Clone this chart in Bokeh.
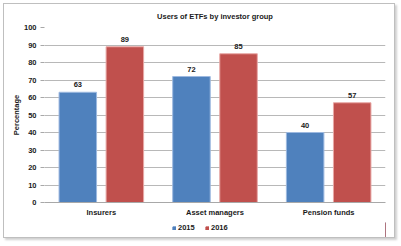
from bokeh.plotting import figure
from bokeh.layouts import column
from bokeh.models import FactorRange, ColumnDataSource, Legend, LegendItem, Range1d, FixedTicker, LabelSet
from bokeh.core.properties import value
from bokeh.transform import dodge
from bokeh.embed import file_html
from bokeh.resources import INLINE

categories = ["Insurers", "Asset managers", "Pension funds"]
years = ["2015", "2016"]
values_2015 = [63, 72, 40]
values_2016 = [89, 85, 57]
y_ticks = [0, 10, 20, 30, 40, 50, 60, 70, 80, 90, 100]

FONT = "Liberation Sans"
FS = "7.5px"
TXT = "#1A1A1A"
BLUE = "#4F81BD"
RED = "#C0504D"

src = ColumnDataSource(dict(cat=categories, v15=values_2015, v16=values_2016,
                            t15=[str(v) for v in values_2015], t16=[str(v) for v in values_2016]))

p = figure(width=390, height=218, x_range=FactorRange(*categories, range_padding=0),
           y_range=Range1d(0, 100), output_backend="svg", toolbar_location=None,
           min_border_left=40, min_border_right=9, min_border_top=23, min_border_bottom=20)
p.outline_line_color = None
p.background_fill_color = "white"

r15 = p.vbar(x=dodge("cat", -0.207, range=p.x_range), top="v15", width=0.33, source=src,
             fill_color=BLUE, line_color="#9DB9E0", line_width=1)
r16 = p.vbar(x=dodge("cat", 0.207, range=p.x_range), top="v16", width=0.33, source=src,
             fill_color=RED, line_color="#E8A8A6", line_width=1)

for col, off in (("t15", -0.207), ("t16", 0.207)):
    p.add_layout(LabelSet(x=dodge("cat", off, range=p.x_range), y=col.replace("t", "v"), text=col,
                          source=src, y_offset=5, text_align="center", text_font=value(FONT),
                          text_font_style="bold", text_font_size=value(FS), text_color=TXT))

p.yaxis.ticker = FixedTicker(ticks=y_ticks)
p.yaxis.axis_line_color = None
p.yaxis.major_tick_line_color = "#A8A8A8"
p.yaxis.major_tick_out = 4
p.yaxis.major_tick_in = 0
p.yaxis.minor_tick_line_color = None
p.yaxis.major_label_text_font = FONT
p.yaxis.major_label_text_font_style = "bold"
p.yaxis.major_label_text_font_size = FS
p.yaxis.major_label_text_color = TXT
p.yaxis.major_label_standoff = 4
p.yaxis.axis_label = "Percentage"
p.yaxis.axis_label_text_font = FONT
p.yaxis.axis_label_text_font_style = "bold"
p.yaxis.axis_label_text_font_size = FS
p.yaxis.axis_label_text_color = TXT
p.yaxis.axis_label_standoff = 0

p.xaxis.axis_line_color = "#A8A8A8"
p.xaxis.major_tick_line_color = None
p.xaxis.minor_tick_line_color = None
p.xaxis.major_label_text_font = FONT
p.xaxis.major_label_text_font_style = "bold"
p.xaxis.major_label_text_font_size = FS
p.xaxis.major_label_text_color = TXT
p.xaxis.major_label_standoff = -1

p.xgrid.grid_line_color = None
p.ygrid.grid_line_color = "#B8B8B8"
p.ygrid.grid_line_width = 1.2

p.title.text = "Users of ETFs by investor group"
p.title.align = "center"
p.title.vertical_align = "top"
p.title.offset = -16
p.title.text_font = FONT
p.title.text_font_style = "bold"
p.title.text_font_size = FS
p.title.text_color = TXT
p.title.standoff = 0
p.title.padding = 5

# legend strip (swatches drawn from the same colours; their own data lies outside the view)
q = figure(width=390, height=15, x_range=Range1d(0, 1), y_range=Range1d(0, 1),
           output_backend="svg", toolbar_location=None, min_border=0)
q.axis.visible = False
q.grid.visible = False
q.outline_line_color = None
g15 = q.vbar(x=[5], top=[1], width=0.1, fill_color=BLUE, line_color=BLUE)
g16 = q.vbar(x=[5], top=[1], width=0.1, fill_color=RED, line_color=RED)
legend = Legend(items=[LegendItem(label=years[0], renderers=[g15]),
                       LegendItem(label=years[1], renderers=[g16])],
                orientation="horizontal", location=(128, 5),
                glyph_width=4, glyph_height=4, label_standoff=2, spacing=7,
                label_text_font=FONT, label_text_font_style="bold", label_text_font_size=FS,
                label_text_color=TXT, border_line_color=None, background_fill_alpha=0,
                padding=0, margin=0, label_height=9)
q.add_layout(legend, "center")

layout = column(p, q, spacing=0,
                styles={"margin-left": "3px", "margin-top": "3px",
                        "border": "1px solid #BFBFBF", "box-shadow": "2px 2px 2px #D0D0D0"})

open("out.html", "w").write(file_html(layout, INLINE))
